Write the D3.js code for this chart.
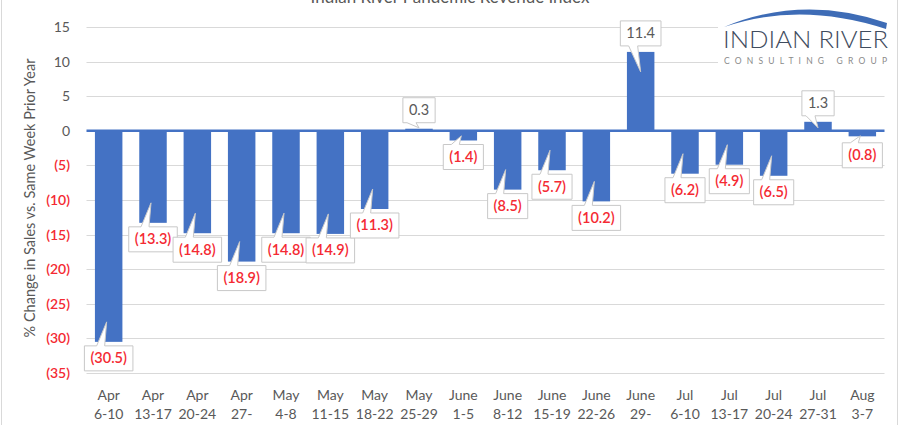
<!DOCTYPE html>
<html>
<head>
<meta charset="utf-8">
<script src="https://cdn.jsdelivr.net/npm/d3@7"></script>
<style>
  body { margin: 0; background: #fff; }
  svg { display: block; font-family: Lato, "Open Sans", sans-serif; }
</style>
</head>
<body>
<svg id="chart" width="900" height="425"></svg>
<script>
'use strict';

// week labels, two lines each
let weekMonth = ['Apr', 'Apr', 'Apr', 'Apr', 'May', 'May', 'May', 'May', 'June',
    'June', 'June', 'June', 'June', 'Jul', 'Jul', 'Jul', 'Jul', 'Aug'];
let weekDays = ['6-10', '13-17', '20-24', '27-', '4-8', '11-15', '18-22', '25-29', '1-5',
    '8-12', '15-19', '22-26', '29-', '6-10', '13-17', '20-24', '27-31', '3-7'];
let revenueChange = [-30.5, -13.3, -14.8, -18.9, -14.8, -14.9, -11.3, 0.3, -1.4,
    -8.5, -5.7, -10.2, 11.4, -6.2, -4.9, -6.5, 1.3, -0.8];
let yTicks = [15, 10, 5, 0, -5, -10, -15, -20, -25, -30, -35];

let gray = '#595959';
let red = '#f42a33';
let blue = '#4472c4';

let svg = d3.select('#chart');

let x = d3.scaleBand()
    .domain(d3.range(revenueChange.length))
    .range([86.5, 884.5])
    .paddingInner(0.38)
    .paddingOuter(0.19);

let y = d3.scaleLinear()
    .domain([-35, 15])
    .range([373, 27]);

let fmt = function(v) {
    return v < 0 ? '(' + d3.format('.1f')(-v) + ')' : d3.format('.1f')(v);
};
let fmtTick = function(v) {
    return v < 0 ? '(' + (-v) + ')' : String(v);
};

// outer border
svg.append('rect')
    .attr('x', 1.5).attr('y', -2)
    .attr('width', 896).attr('height', 440)
    .attr('fill', 'none')
    .attr('stroke', '#d9d9d9');

// title (mostly cut off at the top, as in the source image)
svg.append('text')
    .attr('x', 450).attr('y', 3)
    .attr('text-anchor', 'middle')
    .attr('fill', gray)
    .style('font-size', '17px')
    .text('Indian River Pandemic Revenue Index');

// gridlines
svg.append('g')
    .selectAll('line')
    .data(yTicks.filter(d => d !== 0))
    .join('line')
    .attr('x1', 86.5).attr('x2', 884.5)
    .attr('y1', d => Math.round(y(d)) + 0.5)
    .attr('y2', d => Math.round(y(d)) + 0.5)
    .attr('stroke', '#d9d9d9');

// y axis tick labels
let yAxis = svg.append('g')
    .attr('transform', 'translate(70,0)')
    .call(d3.axisLeft(y).tickValues(yTicks).tickFormat(fmtTick).tickSize(0).tickPadding(0));
yAxis.select('.domain').remove();
yAxis.selectAll('text')
    .attr('fill', d => d < 0 ? red : gray)
    .style('font-family', 'Lato, sans-serif')
    .style('font-weight', d => d < 0 ? 600 : 400)
    .style('font-size', '14px');

// y axis title
svg.append('text')
    .attr('transform', 'translate(35,' + 198 + ') rotate(-90)')
    .attr('text-anchor', 'middle')
    .attr('fill', gray)
    .style('font-size', '14.5px')
    .text('% Change in Sales vs. Same Week Prior Year');

// bars
svg.append('g')
    .selectAll('rect')
    .data(revenueChange)
    .join('rect')
    .attr('x', (d, i) => x(i))
    .attr('width', x.bandwidth())
    .attr('y', d => y(Math.max(0, d)))
    .attr('height', d => Math.abs(y(d) - y(0)))
    .attr('fill', blue);

// zero line
svg.append('line')
    .attr('x1', 86.5).attr('x2', 884.5)
    .attr('y1', y(0)).attr('y2', y(0))
    .attr('stroke', blue)
    .attr('stroke-width', 2.5);

// x axis labels
let xAxis = svg.append('g')
    .attr('transform', 'translate(0,385)')
    .call(d3.axisBottom(x).tickSize(0).tickFormat(''));
xAxis.select('.domain').remove();
xAxis.selectAll('.tick').each(function(d) {
    let t = d3.select(this).append('text')
        .attr('fill', gray)
        .attr('text-anchor', 'middle')
        .style('font-family', 'Lato, sans-serif')
        .style('font-size', '14px');
    t.append('tspan').attr('x', 0).attr('y', 15).text(weekMonth[d]);
    t.append('tspan').attr('x', 0).attr('y', 34).text(weekDays[d]);
});

// callout data labels
let zeroY = y(0);
let callouts = svg.append('g');
revenueChange.forEach(function(v, i) {
    let cx = x(i) + x.bandwidth() / 2;
    let g = callouts.append('g');
    let path = g.append('path')
        .attr('fill', '#fff')
        .attr('stroke', '#c8c8c8');
    let txt = g.append('text')
        .attr('x', cx)
        .attr('text-anchor', 'middle')
        .attr('fill', v < 0 ? red : gray)
        .style('font-weight', v < 0 ? 600 : 400)
        .style('font-size', '14.5px')
        .text(fmt(v));
    let w = txt.node().getComputedTextLength() + 12;
    let h = 25;
    let L = cx - w / 2, R = cx + w / 2;
    let end = y(v);
    let top, tipY, d;
    if (v < 0) {
        top = Math.max(end + 4, zeroY + 12);
        tipY = Math.max(top - 24, zeroY + 5);
        d = 'M' + L + ',' + top + 'H' + (cx - 12) + 'L' + (cx - 2) + ',' + tipY +
            'L' + (cx - 4) + ',' + top + 'H' + R + 'V' + (top + h) + 'H' + L + 'Z';
    } else {
        top = end - 6 - h;
        let bottom = top + h;
        tipY = Math.min(end + 20, zeroY - 3);
        d = 'M' + L + ',' + top + 'H' + R + 'V' + bottom + 'H' + (cx - 3) +
            'L' + cx + ',' + tipY + 'L' + (cx - 12) + ',' + bottom + 'H' + L + 'Z';
    }
    path.attr('d', d);
    txt.attr('y', top + h / 2 + 5);
});

// logo
let logo = svg.append('g');
logo.append('rect')
    .attr('x', 718).attr('y', 0)
    .attr('width', 175).attr('height', 70)
    .attr('fill', '#fff');
logo.append('path')
    .attr('d', 'M724,27 Q803,-6 887,23 L886,29 Q800,1 724,27 Z')
    .attr('fill', '#3e6cb6');
logo.append('text')
    .attr('x', 723).attr('y', 48)
    .attr('fill', '#3f4c5e')
    .attr('textLength', 165)
    .attr('lengthAdjust', 'spacingAndGlyphs')
    .style('font-size', '24px')
    .style('font-weight', 300)
    .text('INDIAN RIVER');
logo.append('text')
    .attr('x', 724).attr('y', 64)
    .attr('fill', '#8a8a8a')
    .attr('textLength', 163)
    .attr('lengthAdjust', 'spacing')
    .style('font-size', '8.5px')
    .text('CONSULTING GROUP');
</script>
</body>
</html>
